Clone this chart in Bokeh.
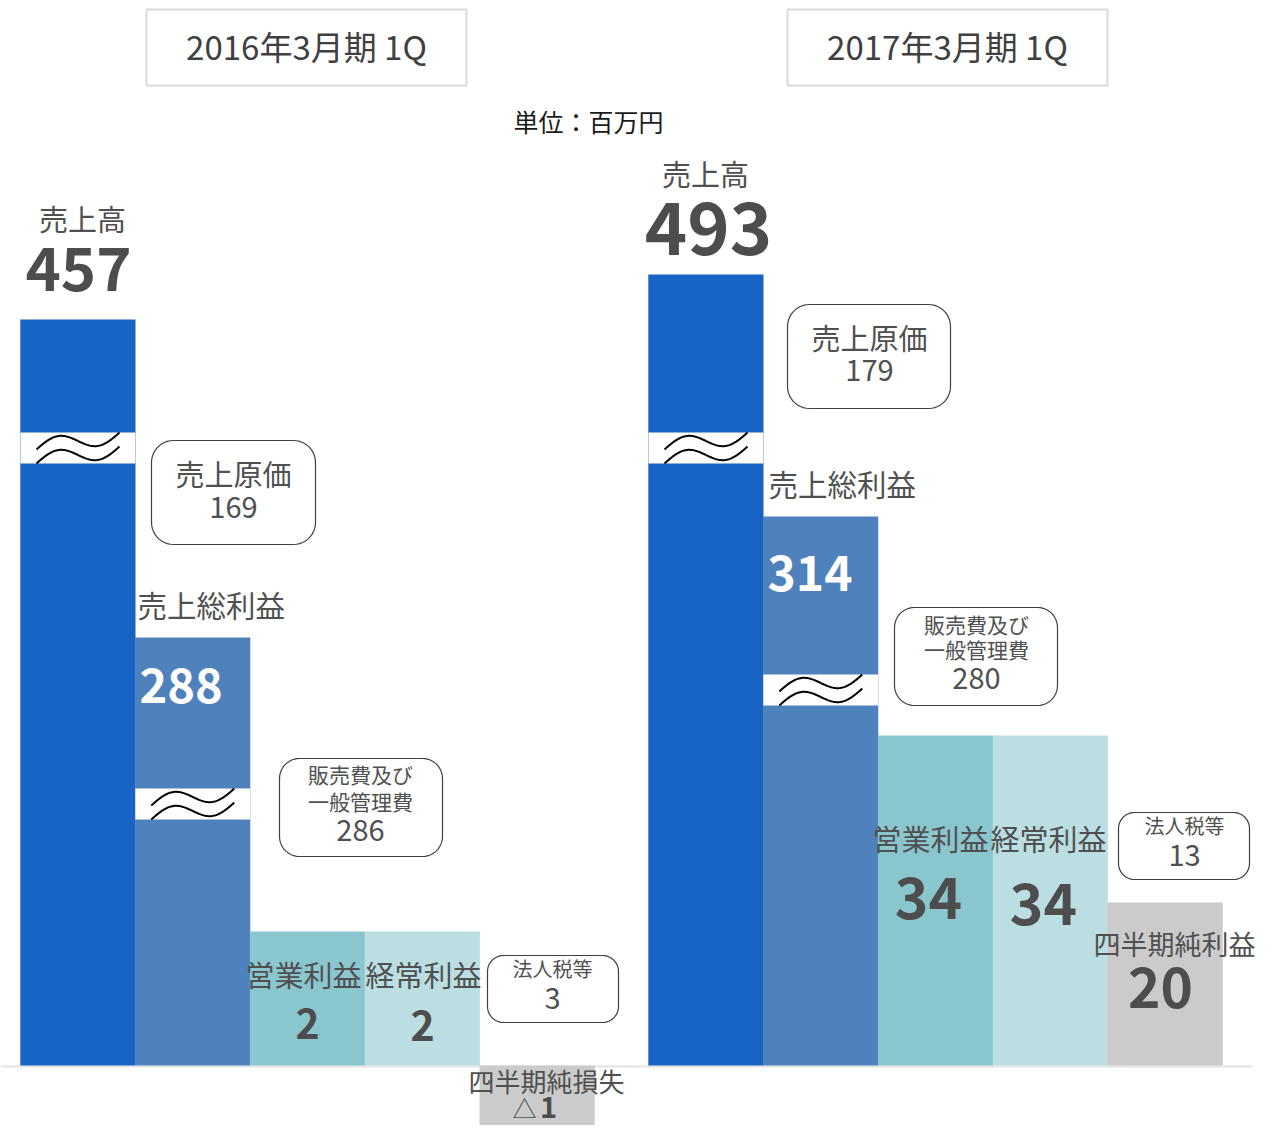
import numpy as np
from bokeh.plotting import figure
from bokeh.models import ColumnDataSource, Range1d
from bokeh.core.properties import value
from bokeh.embed import file_html
from bokeh.resources import INLINE

# ---------------- data ----------------
periods = ["2016年3月期 1Q", "2017年3月期 1Q"]
unit_label = "単位：百万円"

bar_labels_2016 = ["売上高", "売上総利益", "営業利益", "経常利益", "四半期純損失"]
bar_values_2016 = [457, 288, 2, 2, -1]
bar_labels_2017 = ["売上高", "売上総利益", "営業利益", "経常利益", "四半期純利益"]
bar_values_2017 = [493, 314, 34, 34, 20]

cost_labels = ["売上原価", "販売費及び\n一般管理費", "法人税等"]
cost_values_2016 = [169, 286, 3]
cost_values_2017 = [179, 280, 13]

# drawn bar heights (broken, not-to-scale axis)
drawn_2016 = [746, 428, 134, 134, -76]
drawn_2017 = [791, 549, 330, 330, 163]

bar_colors = ["#1864C4", "#4F81BD", "#8AC6CE", "#BADEE1", "#CBCBCB"]

# ---------------- layout ----------------
W, H = 1257, 1125
BASE = 1065  # screen y of baseline
def Y(s):
    return BASE - s

p = figure(width=W, height=H, output_backend="svg", toolbar_location=None,
           x_range=Range1d(0, W), y_range=Range1d(Y(H), Y(0)),
           min_border=0, min_border_left=0, min_border_right=0,
           min_border_top=0, min_border_bottom=0)
p.axis.visible = False
p.grid.visible = False
p.outline_line_color = None
p.background_fill_color = "white"
p.border_fill_color = "white"

FONT = value("Noto Sans CJK JP")
GRAY = "#505050"

def label(x, sy, text, size, bold=False, color=GRAY, align="center"):
    p.text(x=[x], y=[Y(sy)], text=[text], text_font=FONT,
           text_font_size=f"{size}px", text_font_style="bold" if bold else "normal",
           text_color=color, text_align=align, text_baseline="middle")

BW = 114.8
panel_x0 = [20, 648]

# baseline
p.line(x=[0, 1252], y=[Y(1066), Y(1066)], line_color="#E3E3E3", line_width=2)

for k, (vals, drawn) in enumerate([(bar_values_2016, drawn_2016), (bar_values_2017, drawn_2017)]):
    x0 = panel_x0[k]
    xs = [x0 + BW * (i + 0.5) for i in range(len(vals))]
    src = ColumnDataSource(dict(
        x=xs,
        top=[max(d, 0) for d in drawn],
        bottom=[min(d, 0) for d in drawn],
        color=bar_colors,
        value=vals,
    ))
    p.vbar(x="x", width=BW + 0.4, top="top", bottom="bottom", fill_color="color",
           line_color=None, source=src)

# axis breaks (white band + double wave)
breaks = [(0, 0, 432), (0, 1, 788), (1, 0, 432), (1, 1, 674)]
t = np.linspace(0, 1, 60)
up = 17 * t + 9 * np.sin(2 * np.pi * t)
for k, i, gtop in breaks:
    left = panel_x0[k] + BW * i
    p.quad(left=[left], right=[left + BW], top=[Y(gtop)], bottom=[Y(gtop + 31)],
           fill_color="white", line_color=None)
    wx = left + 16 + t * 83
    for off in (17, 31):
        p.line(x=wx, y=Y(gtop + off - up), line_color="black", line_width=2)

# rounded callout boxes
def rbox(x0, y0, x1, y1, r, color="#404040", width=1.2):
    pts = []
    corners = [(x1 - r, y0 + r, -90, 0), (x1 - r, y1 - r, 0, 90),
               (x0 + r, y1 - r, 90, 180), (x0 + r, y0 + r, 180, 270)]
    for cx, cy, a0, a1 in corners:
        a = np.radians(np.linspace(a0, a1, 12))
        for aa in a:
            pts.append((cx + r * np.cos(aa), cy + r * np.sin(aa)))
    px = [q[0] for q in pts]
    py = [Y(q[1]) for q in pts]
    p.patch(x=px, y=py, fill_color="white", line_color=color, line_width=width)

# title boxes
for k, (bx0, bx1) in enumerate([(146, 466), (787, 1107)]):
    p.quad(left=[bx0], right=[bx1], top=[Y(9)], bottom=[Y(85)],
           fill_color=None, line_color="#D9D9D9", line_width=2)
    label((bx0 + bx1) / 2, 45, periods[k], 33, color="#404040")

label(588, 120, unit_label, 25, color="#1A1A1A")

# ---- left panel texts
label(82, 217, bar_labels_2016[0], 29)
label(78, 268, str(bar_values_2016[0]), 60, bold=True, color="#4D4D4D")
label(137, 603, bar_labels_2016[1], 29.5, align="left")
label(139, 685, str(bar_values_2016[1]), 47, bold=True, color="white", align="left")
label(303, 973, bar_labels_2016[2], 29)
label(307, 1023, str(bar_values_2016[2]), 41, bold=True, color="#4D4D4D")
label(423, 973, bar_labels_2016[3], 29)
label(422, 1025, str(bar_values_2016[3]), 41, bold=True, color="#4D4D4D")
label(546, 1080, bar_labels_2016[4], 26)
label(524, 1107, "△", 24)
label(548, 1106, str(abs(bar_values_2016[4])), 29, bold=True, color="#4D4D4D")

rbox(151, 440, 315, 544, 22)
label(233, 472, cost_labels[0], 29)
label(233, 507, str(cost_values_2016[0]), 29)
rbox(279, 758, 442, 856, 20)
sga1, sga2 = cost_labels[1].split("\n")
label(360, 773, sga1, 21)
label(360, 800, sga2, 21)
label(360, 830, str(cost_values_2016[1]), 29)
rbox(487, 955, 618, 1022, 16)
label(552, 968, cost_labels[2], 20)
label(552, 998, str(cost_values_2016[2]), 29)

# ---- right panel texts
label(705, 172, bar_labels_2017[0], 29)
label(708, 228, str(bar_values_2017[0]), 72, bold=True, color="#4D4D4D")
label(768, 482, bar_labels_2017[1], 29.5, align="left")
label(767, 572, str(bar_values_2017[1]), 48, bold=True, color="white", align="left")
label(930, 837, bar_labels_2017[2], 29)
label(928, 897, str(bar_values_2017[2]), 57, bold=True, color="#4D4D4D")
label(1048, 837, bar_labels_2017[3], 29)
label(1043, 903, str(bar_values_2017[3]), 57, bold=True, color="#4D4D4D")
label(1174, 943, bar_labels_2017[4], 27)
label(1160, 987, str(bar_values_2017[4]), 55, bold=True, color="#4D4D4D")

rbox(787, 304, 950, 408, 22)
label(869, 336, cost_labels[0], 29)
label(869, 370, str(cost_values_2017[0]), 29)
rbox(894, 607, 1057, 705, 20)
label(976, 623, sga1, 21)
label(976, 648, sga2, 21)
label(976, 678, str(cost_values_2017[1]), 29)
rbox(1118, 812, 1249, 879, 16)
label(1184, 825, cost_labels[2], 20)
label(1184, 855, str(cost_values_2017[2]), 29)

open("out.html", "w").write(file_html(p, INLINE))
